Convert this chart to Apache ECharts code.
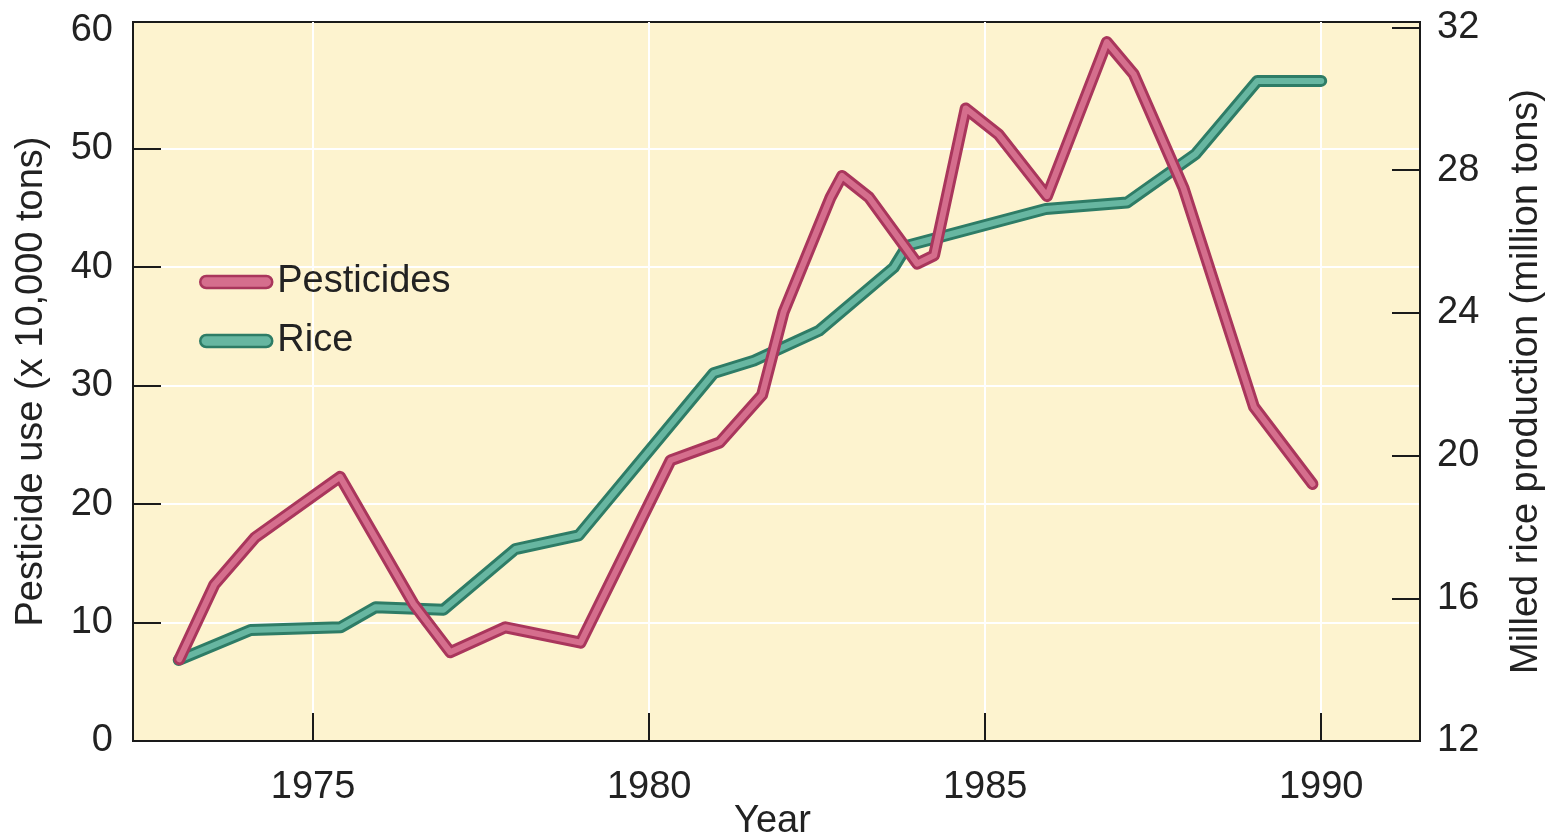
<!DOCTYPE html>
<html><head><meta charset="utf-8">
<script src="https://cdn.jsdelivr.net/npm/echarts@6/dist/echarts.min.js"></script>
<style>html,body{margin:0;padding:0;background:#fff}#c{width:1551px;height:835px}</style>
</head><body><div id="c"></div>
<script>
// ---- data ----
const pesticideYears  = [1973.01, 1973.53, 1974.14, 1975.40, 1976.49, 1977.04, 1977.86, 1978.98, 1980.32, 1981.05, 1981.68, 1982.00, 1982.70, 1982.87, 1983.27, 1983.99, 1984.24, 1984.71, 1985.20, 1985.92, 1986.81, 1987.21, 1987.95, 1989.00, 1989.87];
const pesticideValues = [6.9, 13.2, 17.2, 22.3, 11.6, 7.5, 9.6, 8.3, 23.7, 25.2, 29.2, 36.2, 45.9, 47.7, 45.9, 40.3, 41.0, 53.4, 51.2, 46.0, 59.0, 56.3, 46.7, 28.2, 21.7];
const riceYears  = [1973.00, 1974.07, 1975.41, 1975.93, 1976.94, 1978.01, 1978.95, 1980.96, 1981.56, 1982.53, 1983.64, 1983.84, 1985.90, 1987.11, 1988.13, 1989.05, 1990.00];
const riceValues = [14.27, 15.11, 15.19, 15.75, 15.68, 17.38, 17.76, 22.31, 22.66, 23.50, 25.27, 25.88, 26.91, 27.09, 28.45, 30.50, 30.50];
const yearTicks = [1975, 1980, 1985, 1990];
const pesticideTickLabels = [0, 10, 20, 30, 40, 50, 60];
const pesticideTickMarks = [10, 20, 30, 40, 50];
const riceTickLabels = [12, 16, 20, 24, 28, 32];
const riceTickMarks = [16, 20, 24, 28, 32];

const FONT = 'Liberation Sans';
const FS = 38;
const pair = (xs, ys) => xs.map((x, i) => [x, ys[i]]);
const PINK_DARK = '#a9365c', PINK_LIGHT = '#d56e8d';
const TEAL_DARK = '#2e7c66', TEAL_LIGHT = '#67b6a1';

const chart = echarts.init(document.getElementById('c'));
const lineSeries = (name, data, yIdx, color, width, z) => ({
  name, type: 'line', data, yAxisIndex: yIdx, showSymbol: false, symbol: 'none',
  lineStyle: { color, width, cap: 'round', join: 'round' }, z, silent: true
});
chart.setOption({
  animation: false,
  grid: { left: 133, right: 131, top: 22, bottom: 94, outerBoundsMode: 'none', containLabel: false, show: true, backgroundColor: '#fdf3cf', borderColor: '#1a1a1a', borderWidth: 2 },
  legend: {
    orient: 'vertical', left: 194, top: 258, itemWidth: 72, itemHeight: 13, itemGap: 21,
    icon: 'path://M6,0 L66,0 A6,6 0 0 1 66,12 L6,12 A6,6 0 0 1 6,0 Z',
    textStyle: { fontSize: FS, color: '#222', fontFamily: FONT },
    data: [
      { name: 'Pesticides', itemStyle: { color: PINK_LIGHT, borderColor: PINK_DARK, borderWidth: 2.5 } },
      { name: 'Rice', itemStyle: { color: TEAL_LIGHT, borderColor: TEAL_DARK, borderWidth: 2.5 } }
    ]
  },
  xAxis: {
    type: 'value', min: 1972.32, max: 1991.47,
    name: 'Year', nameLocation: 'middle', nameGap: 62, nameMoveOverlap: false,
    nameTextStyle: { fontSize: FS, color: '#222', fontFamily: FONT, padding: [0, 8, 0, 0] },
    axisLine: { show: true, lineStyle: { color: '#1a1a1a', width: 2 } },
    axisTick: { show: true, inside: true, length: 28, customValues: yearTicks, lineStyle: { color: '#1a1a1a', width: 2 } },
    axisLabel: { customValues: yearTicks, formatter: v => String(v), fontSize: FS, color: '#222', fontFamily: FONT, margin: 28 },
    splitLine: { show: true, lineStyle: { color: '#ffffff', width: 2 } }
  },
  yAxis: [
    {
      type: 'value', min: 0, max: 60.7, position: 'left',
      name: 'Pesticide use (x 10,000 tons)', nameLocation: 'middle', nameGap: 82, nameRotate: 90,
      nameTextStyle: { fontSize: FS, color: '#222', fontFamily: FONT },
      axisLine: { show: true, lineStyle: { color: '#1a1a1a', width: 2 } },
      axisTick: { show: true, inside: true, length: 28, customValues: pesticideTickMarks, lineStyle: { color: '#1a1a1a', width: 2 } },
      axisLabel: { customValues: pesticideTickLabels, fontSize: FS, color: '#222', fontFamily: FONT, margin: 20 },
      splitLine: { show: true, lineStyle: { color: '#ffffff', width: 2 } }
    },
    {
      type: 'value', min: 12, max: 32.15, position: 'right',
      name: 'Milled rice production (million tons)', nameLocation: 'middle', nameGap: 88, nameRotate: 90,
      nameTextStyle: { fontSize: FS, color: '#222', fontFamily: FONT },
      axisLine: { show: true, lineStyle: { color: '#1a1a1a', width: 2 } },
      axisTick: { show: true, inside: true, length: 28, customValues: riceTickMarks, lineStyle: { color: '#1a1a1a', width: 2 } },
      axisLabel: { customValues: riceTickLabels, fontSize: FS, color: '#222', fontFamily: FONT, margin: 17 },
      splitLine: { show: false }
    }
  ],
  series: [
    lineSeries('Rice outline', pair(riceYears, riceValues), 1, TEAL_DARK, 12, 2),
    lineSeries('Rice', pair(riceYears, riceValues), 1, TEAL_LIGHT, 6, 3),
    lineSeries('Pesticides outline', pair(pesticideYears, pesticideValues), 0, PINK_DARK, 12, 4),
    lineSeries('Pesticides', pair(pesticideYears, pesticideValues), 0, PINK_LIGHT, 6, 5)
  ]
});
</script></body></html>
